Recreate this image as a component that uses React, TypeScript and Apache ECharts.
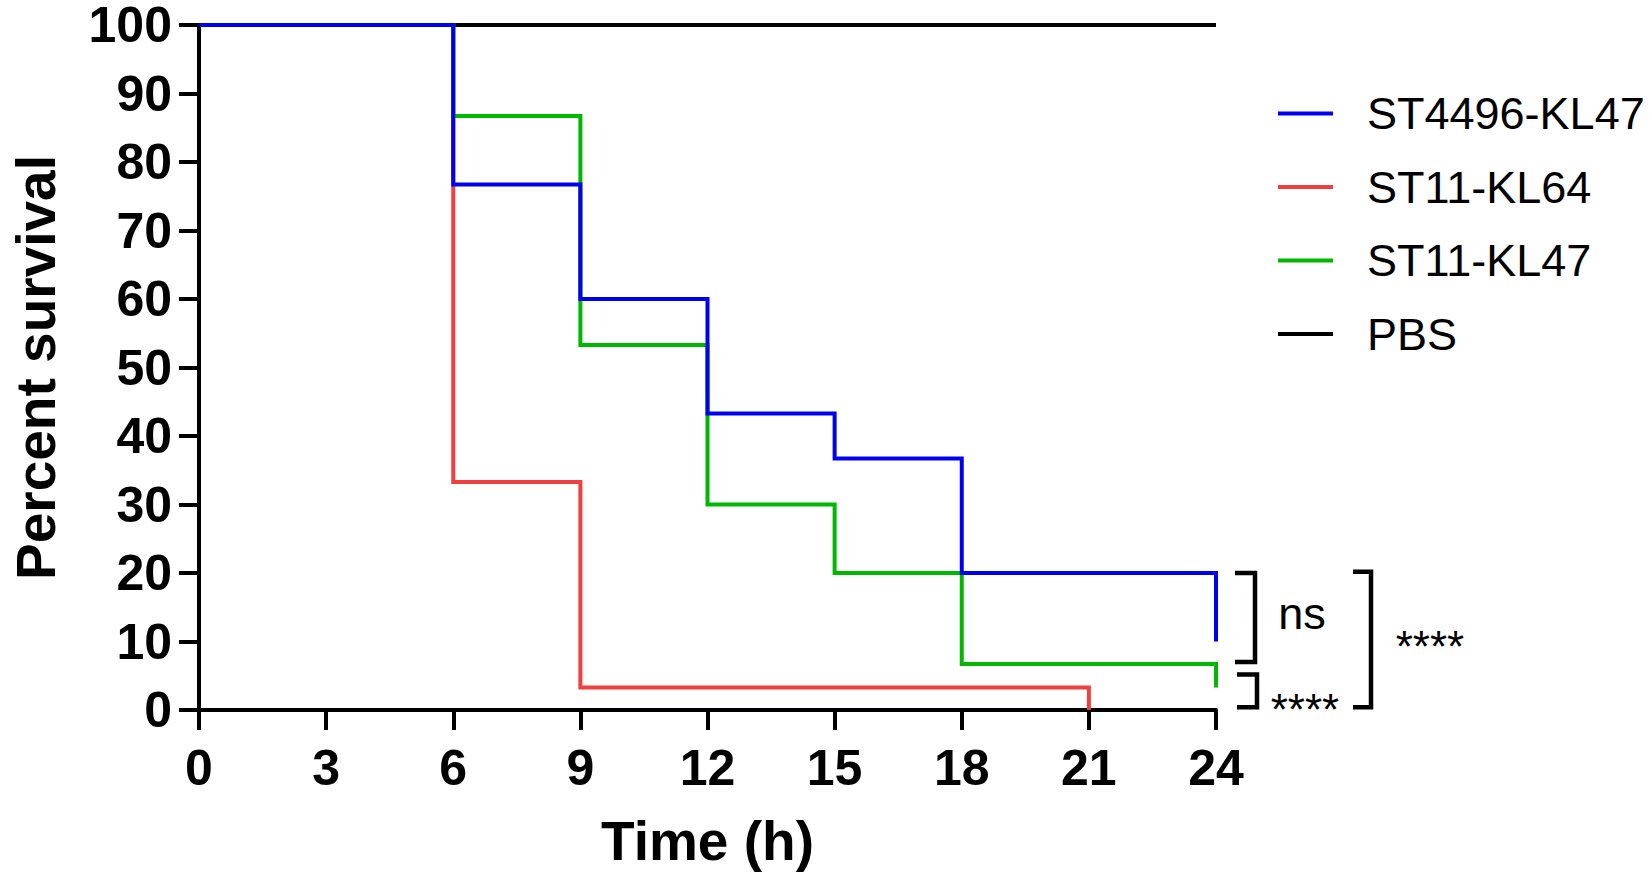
import React, { useEffect, useRef } from "react";
import * as echarts from "echarts";

// ---- data ----
const legendOrder = ["ST4496-KL47", "ST11-KL64", "ST11-KL47", "PBS"];

const timesST4496KL47 = [0, 6, 9, 12, 15, 18, 24];
const survivalST4496KL47 = [100, 76.7, 60, 43.3, 36.7, 20, 10];

const timesST11KL64 = [0, 6, 9, 21];
const survivalST11KL64 = [100, 33.3, 3.3, 0];

const timesST11KL47 = [0, 6, 9, 12, 15, 18, 24];
const survivalST11KL47 = [100, 86.7, 53.3, 30, 20, 6.7, 3.3];

const timesPBS = [0, 24];
const survivalPBS = [100, 100];

const xAxisTitle = "Time (h)";
const yAxisTitle = "Percent survival";

// significance brackets: label, top value, bottom value (percent survival)
const bracketLabels = ["ns", "****", "****"];
const bracketTops = [20, 5.2, 20.2];
const bracketBottoms = [7, 0.4, 0.4];

const FONT = "'Liberation Sans', Arial, Helvetica, sans-serif";

function zip(xs: number[], ys: number[]) {
  return xs.map((x, i) => [x, ys[i]]);
}

export default function App() {
  const ref = useRef<HTMLDivElement | null>(null);

  useEffect(() => {
    if (!ref.current) return;
    const chart = echarts.init(ref.current, undefined, { renderer: "svg" });

    const mk = (name: string, color: string, data: number[][]) => ({
      name,
      type: "line",
      step: "end",
      data,
      symbol: "none",
      showSymbol: false,
      color,
      lineStyle: { color, width: 4, cap: "butt", join: "miter" },
    });

    const option: any = {
      animation: false,
      backgroundColor: "#ffffff",
      textStyle: { fontFamily: FONT },
      grid: { left: 184, right: 434, top: 23, bottom: 172, containLabel: false },
      legend: {
        data: legendOrder,
        orient: "vertical",
        left: 1273,
        top: 86,
        itemWidth: 55,
        itemHeight: 4,
        itemGap: 28.5,
        icon: "rect",
        selectedMode: false,
        textStyle: {
          fontFamily: FONT,
          fontSize: 45,
          color: "#000",
          padding: [0, 0, 0, 29],
        },
      },
      xAxis: {
        type: "value",
        min: 0,
        max: 24,
        interval: 3,
        name: xAxisTitle,
        nameLocation: "middle",
        nameGap: 103,
        nameTextStyle: { fontFamily: FONT, fontSize: 55, fontWeight: "bold", color: "#000" },
        axisLine: { show: true, onZero: false, lineStyle: { color: "#000", width: 4 } },
        axisTick: { show: true, length: 20, lineStyle: { color: "#000", width: 4 } },
        axisLabel: { fontFamily: FONT, fontSize: 50, fontWeight: "bold", color: "#000", margin: 33 },
        splitLine: { show: false },
      },
      yAxis: {
        type: "value",
        min: 0,
        max: 100,
        interval: 10,
        name: yAxisTitle,
        nameLocation: "middle",
        nameGap: 136,
        nameTextStyle: { fontFamily: FONT, fontSize: 55, fontWeight: "bold", color: "#000" },
        axisLine: { show: true, onZero: false, lineStyle: { color: "#000", width: 4 } },
        axisTick: { show: true, length: 20, lineStyle: { color: "#000", width: 4 } },
        axisLabel: { fontFamily: FONT, fontSize: 50, fontWeight: "bold", color: "#000", margin: 27 },
        splitLine: { show: false },
      },
      series: [
        mk("PBS", "#000000", zip(timesPBS, survivalPBS)),
        mk("ST11-KL64", "#ef3f3f", zip(timesST11KL64, survivalST11KL64)),
        mk("ST11-KL47", "#00b800", zip(timesST11KL47, survivalST11KL47)),
        mk("ST4496-KL47", "#0000f0", zip(timesST4496KL47, survivalST4496KL47)),
      ],
    };
    chart.setOption(option);

    // annotation brackets placed via the axis scales
    const xEnd = chart.convertToPixel({ xAxisIndex: 0 }, 24) as number;
    const yPx = (v: number) => chart.convertToPixel({ yAxisIndex: 0 }, v) as number;
    const armStart = [xEnd + 19, xEnd + 21, xEnd + 137];
    const armEnd = [xEnd + 39, xEnd + 41, xEnd + 155];
    const labelX = [xEnd + 86, xEnd + 89, xEnd + 214];
    const graphics: any[] = [];
    bracketLabels.forEach((label, i) => {
      const yt = yPx(bracketTops[i]);
      const yb = yPx(bracketBottoms[i]);
      graphics.push({
        type: "polyline",
        shape: {
          points: [
            [armStart[i], yt],
            [armEnd[i], yt],
            [armEnd[i], yb],
            [armStart[i], yb],
          ],
        },
        style: { stroke: "#000", lineWidth: 4.5, fill: null, lineJoin: "miter" },
      });
      const isStars = label.indexOf("*") >= 0;
      const cy = i === 0 ? (yt + yb) / 2 - 4 : i === 1 ? yb + 2 : (yt + yb) / 2 + 7;
      graphics.push({
        type: "text",
        x: labelX[i],
        y: cy,
        style: {
          text: label,
          fontFamily: FONT,
          fontSize: isStars ? 44 : 45,
          fill: "#000",
          align: "center",
          verticalAlign: "middle",
        },
      });
    });
    chart.setOption({ graphic: graphics });

    return () => chart.dispose();
  }, []);

  return (
    <div
      ref={ref}
      style={{ position: "absolute", left: 0, top: 0, width: 1650, height: 882, background: "#fff" }}
    />
  );
}
